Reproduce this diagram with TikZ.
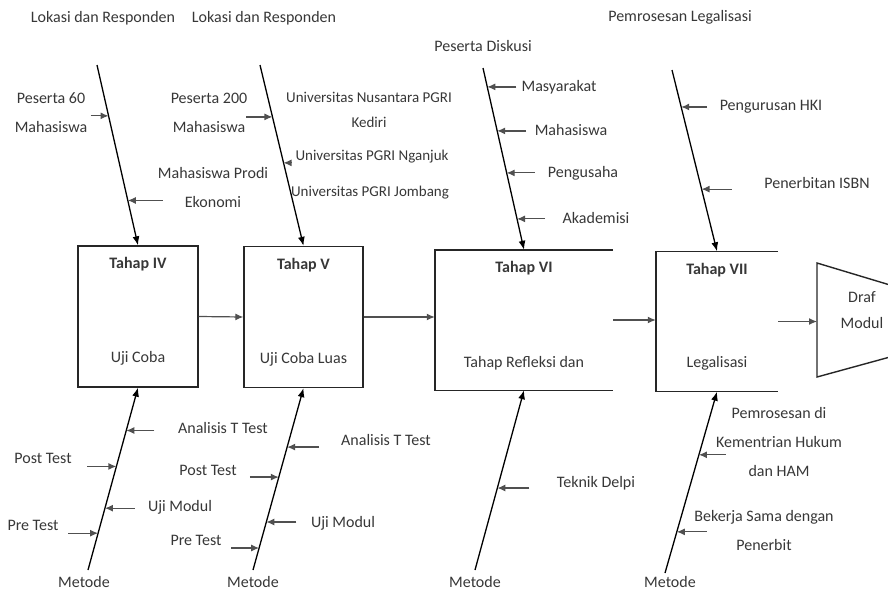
\documentclass[tikz,border=0pt]{standalone}
\usepackage{fontspec}
\setmainfont{Carlito}
\usepackage{tikz}
\usetikzlibrary{shapes,arrows,arrows.meta,positioning,calc}
\definecolor{ink}{RGB}{55,55,55}
\definecolor{wire}{RGB}{80,80,80}
\tikzstyle{stage} = [rectangle, draw=black!85, line width=1.3pt, minimum width=120pt, minimum height=141pt, inner sep=0pt]
\tikzstyle{openstage} = [rectangle, minimum height=140pt, inner sep=0pt]
\tikzstyle{frame} = [draw=black!85, line width=1.4pt]
\tikzstyle{lbl} = [text=ink, inner sep=1pt, font=\fontsize{16}{19}\selectfont]
\tikzstyle{twolbl} = [lbl, align=center, font=\fontsize{16}{29}\selectfont]
\tikzstyle{unilbl} = [lbl, align=center, font=\fontsize{15}{25}\selectfont]
\tikzstyle{head} = [lbl, font=\fontsize{16}{19}\selectfont\bfseries]
\tikzstyle{spine} = [draw, line width=1.3pt, >={Latex[length=9pt,width=7pt]}, ->]
\tikzstyle{rib} = [draw, line width=1.2pt, color=wire, >={Latex[length=8pt,width=7pt]}, ->]
\tikzstyle{tedge} = [draw, line width=1.2pt, color=wire, >={Latex[length=8pt,width=7pt]}, ->]

\begin{document}
\begin{tikzpicture}[auto, x=1pt, y=-1pt]
\useasboundingbox (0,0) rectangle (888,594);

% stages =============================

\node[stage] (box4) at (138,316.5) {};
\node[stage, minimum width=119pt] (box5) at (303.5,317) {};
\node[openstage, minimum width=178pt] (box6) at (524,320) {};
\node[openstage, minimum width=122pt] (box7) at (717,321.5) {};
\path[frame] (box6.north east) -- (box6.north west) -- (box6.south west) -- (box6.south east);
\path[frame] (box7.north east) -- (box7.north west) -- (box7.south west) -- (box7.south east);

\node[head, below=11pt of box4.north] (h4) {Tahap IV};
\node[lbl, above=21pt of box4.south] (u4) {Uji Coba};
\node[head, below=11pt of box5.north] (h5) {Tahap V};
\node[lbl, above=21pt of box5.south] (u5) {Uji Coba Luas};
\node[head, below=10pt of box6.north] (h6) {Tahap VI};
\node[lbl, above=19pt of box6.south] (u6) {Tahap Refleksi dan};
\node[head, below=11pt of box7.north] (h7) {Tahap VII};
\node[lbl, above=20pt of box7.south] (u7) {Legalisasi};

% output
\coordinate (tr1) at (890,285);
\coordinate (tl1) at (817,263);
\coordinate (tl2) at (817,377);
\coordinate (tr2) at (890,357);
\path[frame] (tr1) -- (tl1) -- (tl2) -- (tr2);
\node[lbl, align=center] (draf) at (862,310) {Draf\\[7pt]Modul};

% spines
\coordinate (s4t) at (97,65);
\coordinate (s5t) at (260,65);
\coordinate (s6t) at (483,68);
\coordinate (s7t) at (672,70);
\coordinate (s4b) at (88,570);
\coordinate (s5b) at (253,570);
\coordinate (s6b) at (475,570);
\coordinate (s7b) at (665,573);

% ribs on the spines
\coordinate (m4a) at ($(s4t)!0.282!(box4.north)$);
\coordinate (m4b) at ($(s4t)!0.751!(box4.north)$);
\coordinate (m5a) at ($(s5t)!0.287!(box5.north)$);
\coordinate (m5b) at ($(s5t)!0.541!(box5.north)$);
\coordinate (m6a) at ($(s6t)!0.104!(box6.north)$);
\coordinate (m6b) at ($(s6t)!0.346!(box6.north)$);
\coordinate (m6c) at ($(s6t)!0.577!(box6.north)$);
\coordinate (m6d) at ($(s6t)!0.830!(box6.north)$);
\coordinate (m7a) at ($(s7t)!0.204!(box7.north)$);
\coordinate (m7b) at ($(s7t)!0.657!(box7.north)$);

\coordinate (n4a) at ($(s4b)!0.765!(box4.south)$);
\coordinate (n4b) at ($(s4b)!0.568!(box4.south)$);
\coordinate (n4c) at ($(s4b)!0.339!(box4.south)$);
\coordinate (n4d) at ($(s4b)!0.202!(box4.south)$);
\coordinate (n5a) at ($(s5b)!0.676!(box5.south)$);
\coordinate (n5b) at ($(s5b)!0.511!(box5.south)$);
\coordinate (n5c) at ($(s5b)!0.264!(box5.south)$);
\coordinate (n5d) at ($(s5b)!0.121!(box5.south)$);
\coordinate (n6a) at ($(s6b)!0.456!(box6.south)$);
\coordinate (n7a) at ($(s7b)!0.652!(box7.south)$);
\coordinate (n7b) at ($(s7b)!0.227!(box7.south)$);

% labels top
\node[lbl] (lok1) at (103,18) {Lokasi dan Responden};
\node[lbl] (lok2) at (264,18) {Lokasi dan Responden};
\node[lbl] (pem) at (680,17) {Pemrosesan Legalisasi};
\node[lbl] (disk) at (483,46) {Peserta Diskusi};

\node[twolbl] (pes60) at (51,113) {Peserta 60\\Mahasiswa};
\node[twolbl] (prodi) at (213,187.5) {Mahasiswa Prodi\\Ekonomi};
\node[twolbl] (pes200) at (209,113) {Peserta 200\\Mahasiswa};
\node[unilbl] (kediri) at (369,110) {Universitas Nusantara PGRI\\Kediri};
\node[unilbl] (nganjuk) at (372,157) {Universitas PGRI Nganjuk};
\node[unilbl] (jombang) at (370,193) {Universitas PGRI Jombang};
\node[lbl] (masy) at (559,87) {Masyarakat};
\node[lbl] (mhs) at (571,130) {Mahasiswa};
\node[lbl] (peng) at (583,173) {Pengusaha};
\node[lbl] (akad) at (596,218) {Akademisi};
\node[lbl] (hki) at (771,107) {Pengurusan HKI};
\node[lbl] (isbn) at (817,183) {Penerbitan ISBN};

% labels bottom
\node[lbl] (at4) at (223,428) {Analisis T Test};
\node[lbl] (post4) at (43,458) {Post Test};
\node[lbl] (uji4) at (180,507) {Uji Modul};
\node[lbl] (pre4) at (33,525) {Pre Test};
\node[lbl] (met4) at (84,582) {Metode};
\node[lbl] (at5) at (386,440) {Analisis T Test};
\node[lbl] (post5) at (208,470) {Post Test};
\node[lbl] (uji5) at (343,523) {Uji Modul};
\node[lbl] (pre5) at (196,540) {Pre Test};
\node[lbl] (met5) at (253,582) {Metode};
\node[lbl] (delpi) at (596,483) {Teknik Delpi};
\node[lbl] (met6) at (475,582) {Metode};
\node[twolbl] (ham) at (779,442) {Pemrosesan di\\Kementrian Hukum\\dan HAM};
\node[twolbl] (terbit) at (764,530) {Bekerja Sama dengan\\Penerbit};
\node[lbl] (met7) at (670,582) {Metode};

%edges
\path[tedge] (box4.east) -- (box5.west);
\path[tedge] (box5.east) -- (box5.east -| box6.west);
\path[tedge] (box6.east) -- (box6.east -| box7.west);
\path[tedge] (box7.east) -- (box7.east -| tl1);

\path[spine] (s4t) -- (box4.north);
\path[spine] (s5t) -- (box5.north);
\path[spine] (s6t) -- (box6.north);
\path[spine] (s7t) -- (box7.north);
\path[spine] (s4b) -- (box4.south);
\path[spine] (s5b) -- (box5.south);
\path[spine] (s6b) -- (box6.south);
\path[spine] (s7b) -- (box7.south);

\path[rib] ($(m4a)+(-18,0)$) -- (m4a);
\path[rib] ($(m4b)+(35,0)$) -- (m4b);
\path[rib] ($(m5a)+(-26,0)$) -- (m5a);
\path[rib] ($(m5b)+(8,0)$) -- (m5b);
\path[rib] ($(m6a)+(29,0)$) -- (m6a);
\path[rib] ($(m6b)+(29,0)$) -- (m6b);
\path[rib] ($(m6c)+(28,0)$) -- (m6c);
\path[rib] ($(m6d)+(28,0)$) -- (m6d);
\path[rib] ($(m7a)+(26,0)$) -- (m7a);
\path[rib] ($(m7b)+(30,0)$) -- (m7b);

\path[rib] ($(n4a)+(28,0)$) -- (n4a);
\path[rib] ($(n4b)+(-29,0)$) -- (n4b);
\path[rib] ($(n4c)+(30,0)$) -- (n4c);
\path[rib] ($(n4d)+(-30,0)$) -- (n4d);
\path[rib] ($(n5a)+(32,0)$) -- (n5a);
\path[rib] ($(n5b)+(-29,0)$) -- (n5b);
\path[rib] ($(n5c)+(30,0)$) -- (n5c);
\path[rib] ($(n5d)+(-28,0)$) -- (n5d);
\path[rib] ($(n6a)+(32,0)$) -- (n6a);
\path[rib] ($(n7a)+(27,0)$) -- (n7a);
\path[rib] ($(n7b)+(30,0)$) -- (n7b);

\end{tikzpicture}
\end{document}
